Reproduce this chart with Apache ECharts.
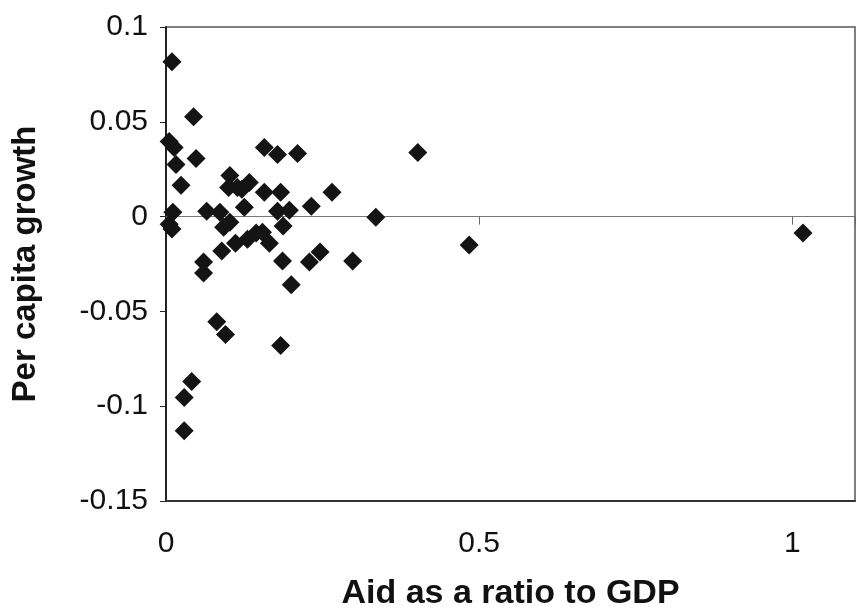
<!DOCTYPE html>
<html>
<head>
<meta charset="utf-8">
<script src="https://cdn.jsdelivr.net/npm/echarts@6/dist/echarts.min.js"></script>
<style>html,body{margin:0;padding:0;background:#fff;}#c{width:858px;height:616px;}</style>
</head>
<body>
<div id="c"></div>
<script>
// Aid as a ratio to GDP (x) and per capita growth (y)
const aidRatio = [
  0.0095, 0.044, 0.005, 0.013, 0.016, 0.048, 0.024, 0.011, 0.005, 0.0095,
  0.065, 0.086, 0.102, 0.092, 0.125, 0.102, 0.100, 0.114, 0.133, 0.121,
  0.157, 0.178, 0.210, 0.157, 0.183, 0.178, 0.197, 0.232, 0.265, 0.187,
  0.111, 0.130, 0.144, 0.154, 0.165, 0.089, 0.060, 0.060, 0.186, 0.200,
  0.229, 0.246, 0.298, 0.335, 0.402, 0.484, 1.017, 0.081, 0.095, 0.183,
  0.041, 0.029, 0.029
];
const growth = [
  0.0817, 0.0527, 0.0396, 0.0365, 0.0275, 0.0307, 0.0165, 0.0023, -0.0040, -0.0066,
  0.0028, 0.0023, -0.0030, -0.0056, 0.0049, 0.0217, 0.0154, 0.0154, 0.0180, 0.0144,
  0.0364, 0.0328, 0.0333, 0.0128, 0.0128, 0.0028, 0.0034, 0.0055, 0.0128, -0.0050,
  -0.0140, -0.0119, -0.0087, -0.0082, -0.0140, -0.0182, -0.0239, -0.0297, -0.0234, -0.0360,
  -0.0239, -0.0187, -0.0234, -0.0003, 0.0338, -0.0150, -0.0087, -0.0554, -0.0622, -0.0680,
  -0.0870, -0.0954, -0.1130
];
const xTickLabels = ['0', '0.5', '1'];
const yTickLabels = ['-0.15', '-0.1', '-0.05', '0', '0.05', '0.1'];

const points = aidRatio.map((v, i) => [v, growth[i]]);
const font = '"Liberation Sans", Arial, sans-serif';

const chart = echarts.init(document.getElementById('c'));
chart.setOption({
  animation: false,
  backgroundColor: '#fff',
  grid: {
    left: 166, right: 2, top: 27, bottom: 113,
    show: true, borderColor: '#555', borderWidth: 1.5, backgroundColor: 'transparent'
  },
  xAxis: [
    {
      type: 'value', min: 0, max: 1.1, interval: 0.5, position: 'bottom',
      axisLine: { show: true, onZero: false, lineStyle: { color: '#333', width: 2 } },
      axisTick: { show: false },
      splitLine: { show: false },
      axisLabel: {
        color: '#111', fontSize: 30, fontFamily: font, margin: 28,
        formatter: function (v) {
          const i = Math.round(v / 0.5);
          return Math.abs(v - i * 0.5) < 1e-9 && xTickLabels[i] !== undefined ? xTickLabels[i] : '';
        }
      },
      name: 'Aid as a ratio to GDP', nameLocation: 'middle', nameGap: 76,
      nameTextStyle: { color: '#111', fontSize: 34, fontWeight: 'bold', fontFamily: font }
    },
    {
      type: 'value', min: 0, max: 1.1, interval: 0.5, position: 'bottom',
      axisLine: { show: true, onZero: true, lineStyle: { color: '#777', width: 1.2 } },
      axisTick: { show: true, length: 8, inside: false, lineStyle: { color: '#666', width: 1 } },
      axisLabel: { show: false },
      splitLine: { show: false }
    }
  ],
  yAxis: {
    type: 'value', min: -0.15, max: 0.1, interval: 0.05,
    axisLine: { show: true, onZero: false, lineStyle: { color: '#222', width: 2 } },
    axisTick: { show: true, length: 6, inside: false, lineStyle: { color: '#222', width: 1 } },
    splitLine: { show: false },
    axisLabel: {
      color: '#111', fontSize: 30, fontFamily: font, margin: 18,
      formatter: function (v) {
        const i = Math.round((v + 0.15) / 0.05);
        return yTickLabels[i] !== undefined ? yTickLabels[i] : '';
      }
    },
    name: 'Per capita growth', nameLocation: 'middle', nameGap: 124,
    nameTextStyle: { color: '#111', fontSize: 33, fontWeight: 'bold', fontFamily: font }
  },
  series: [{
    type: 'scatter',
    xAxisIndex: 0,
    data: points,
    symbol: 'diamond',
    symbolSize: 19,
    itemStyle: { color: '#141414', opacity: 1 },
    z: 5
  }]
});
</script>
</body>
</html>
